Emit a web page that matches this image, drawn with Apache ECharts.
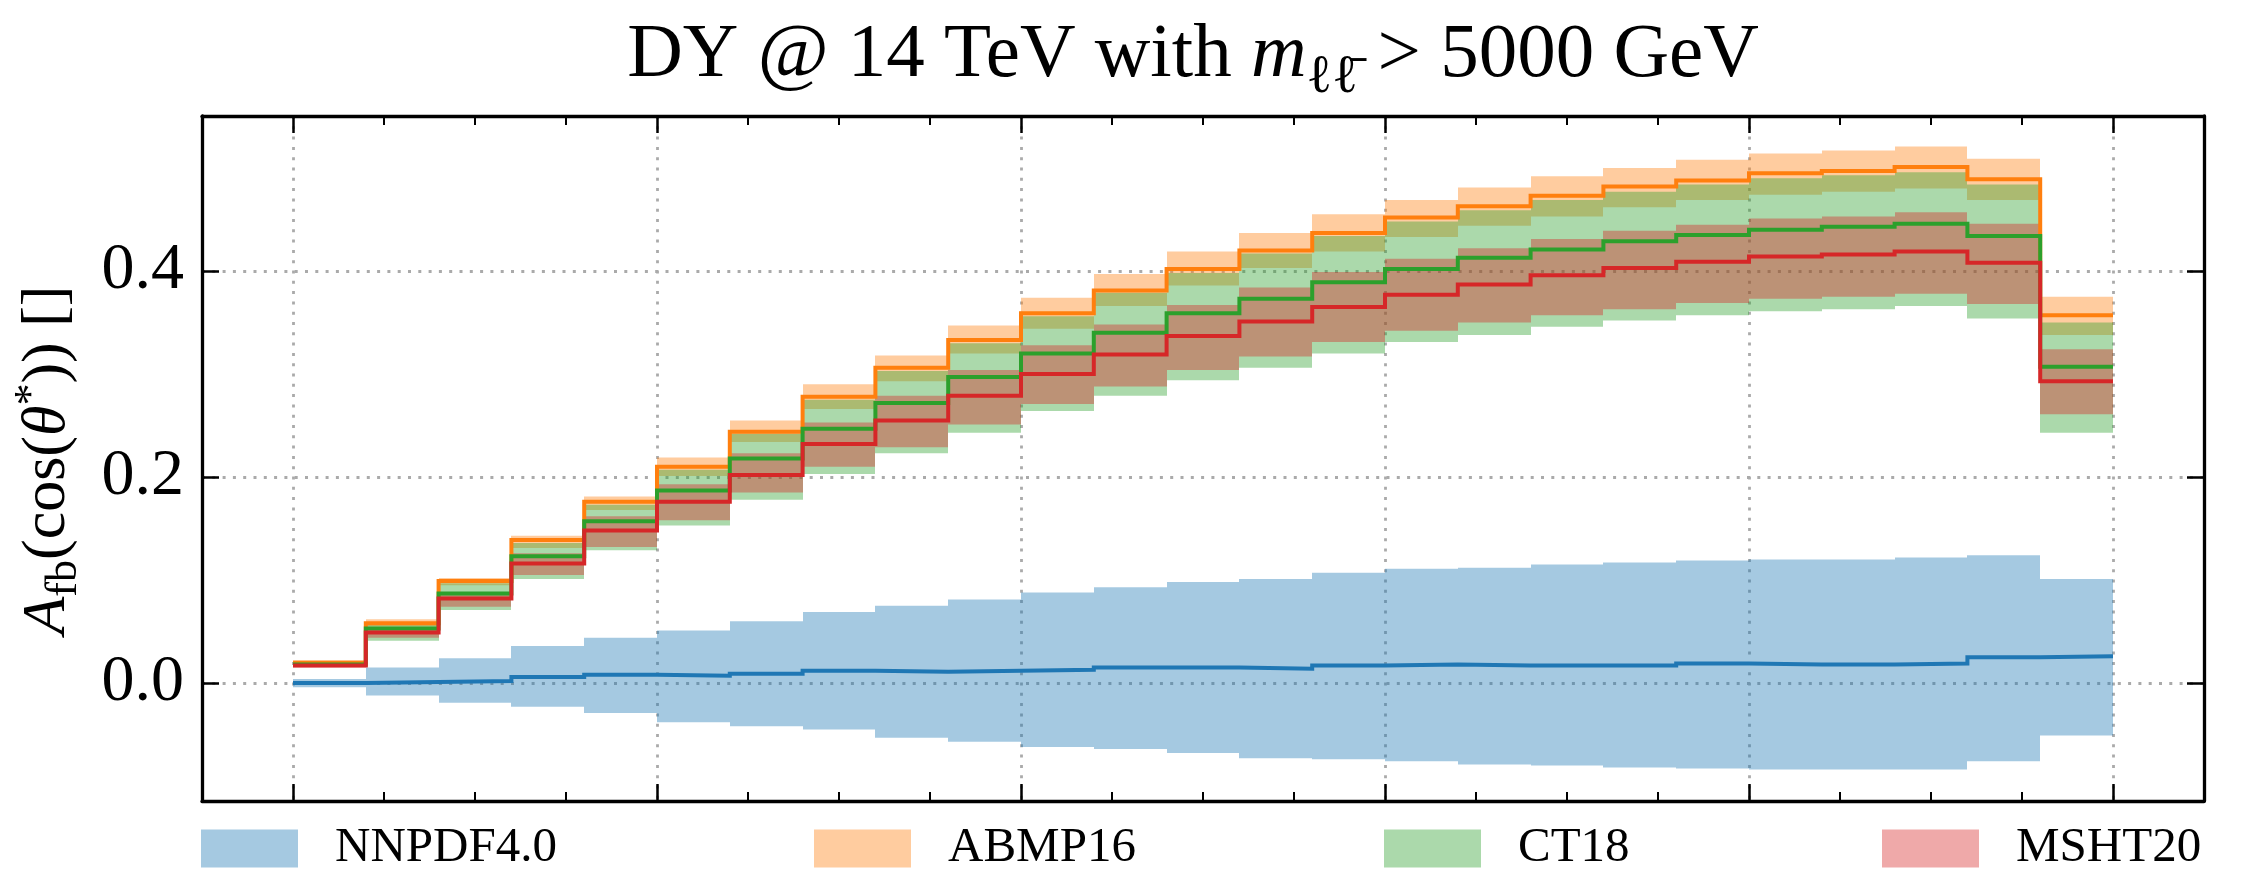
<!DOCTYPE html>
<html>
<head>
<meta charset="utf-8">
<script src="https://cdn.jsdelivr.net/npm/echarts@6/dist/echarts.min.js"></script>
<style>
  html, body { margin: 0; padding: 0; background: #ffffff; }
  #chart { width: 2254px; height: 881px; }
</style>
</head>
<body>
<div id="chart"></div>
<script>
// Bin edges of the histogram (25 bins on [0, 1])
const binEdges = [0.00, 0.04, 0.08, 0.12, 0.16, 0.20, 0.24, 0.28, 0.32, 0.36, 0.40, 0.44, 0.48,
                  0.52, 0.56, 0.60, 0.64, 0.68, 0.72, 0.76, 0.80, 0.84, 0.88, 0.92, 0.96, 1.00];

const pdfNames = ['NNPDF4.0', 'ABMP16', 'CT18', 'MSHT20'];

// NNPDF4.0: central value and uncertainty band per bin
const nnpdfCentral = [0.000, 0.001, 0.002, 0.006, 0.008, 0.007, 0.009, 0.012, 0.011, 0.012, 0.013, 0.015, 0.015,
                      0.014, 0.017, 0.018, 0.017, 0.017, 0.017, 0.019, 0.018, 0.018, 0.019, 0.025, 0.026];
const nnpdfLow     = [-0.004, -0.012, -0.019, -0.023, -0.029, -0.038, -0.042, -0.045, -0.053, -0.057, -0.062, -0.064, -0.068,
                      -0.073, -0.074, -0.076, -0.079, -0.080, -0.082, -0.083, -0.084, -0.084, -0.084, -0.076, -0.051];
const nnpdfHigh    = [0.004, 0.015, 0.024, 0.036, 0.044, 0.051, 0.060, 0.069, 0.075, 0.081, 0.088, 0.093, 0.098,
                      0.101, 0.107, 0.111, 0.112, 0.115, 0.117, 0.119, 0.120, 0.120, 0.122, 0.124, 0.101];

// ABMP16
const abmpCentral = [0.020, 0.058, 0.099, 0.139, 0.176, 0.210, 0.244, 0.278, 0.306, 0.333, 0.359, 0.381, 0.402,
                     0.420, 0.437, 0.452, 0.463, 0.473, 0.482, 0.488, 0.495, 0.497, 0.501, 0.489, 0.357];
const abmpLow     = [0.019, 0.055, 0.095, 0.131, 0.168, 0.201, 0.234, 0.266, 0.293, 0.320, 0.344, 0.366, 0.386,
                     0.403, 0.419, 0.433, 0.444, 0.453, 0.462, 0.469, 0.474, 0.477, 0.480, 0.469, 0.338];
const abmpHigh    = [0.021, 0.062, 0.102, 0.143, 0.181, 0.219, 0.255, 0.290, 0.318, 0.347, 0.374, 0.397, 0.419,
                     0.437, 0.455, 0.469, 0.481, 0.492, 0.500, 0.508, 0.514, 0.517, 0.521, 0.509, 0.375];

// CT18
const ct18Central = [0.018, 0.053, 0.087, 0.123, 0.157, 0.187, 0.218, 0.247, 0.272, 0.297, 0.320, 0.340, 0.359,
                     0.373, 0.389, 0.402, 0.413, 0.421, 0.429, 0.435, 0.440, 0.443, 0.446, 0.434, 0.307];
const ct18Low     = [0.016, 0.041, 0.071, 0.101, 0.129, 0.153, 0.178, 0.203, 0.223, 0.243, 0.264, 0.279, 0.294,
                     0.306, 0.320, 0.331, 0.338, 0.346, 0.352, 0.357, 0.361, 0.363, 0.366, 0.354, 0.243];
const ct18High    = [0.020, 0.057, 0.097, 0.136, 0.173, 0.207, 0.242, 0.275, 0.303, 0.330, 0.356, 0.379, 0.398,
                     0.417, 0.434, 0.448, 0.459, 0.469, 0.477, 0.484, 0.490, 0.493, 0.496, 0.484, 0.350];

// MSHT20
const mshtCentral = [0.017, 0.049, 0.082, 0.116, 0.148, 0.176, 0.202, 0.232, 0.255, 0.279, 0.300, 0.319, 0.337,
                     0.351, 0.365, 0.377, 0.387, 0.396, 0.403, 0.409, 0.414, 0.416, 0.419, 0.408, 0.293];
const mshtLow     = [0.015, 0.044, 0.074, 0.105, 0.132, 0.158, 0.185, 0.210, 0.229, 0.251, 0.271, 0.288, 0.304,
                     0.317, 0.331, 0.342, 0.350, 0.357, 0.363, 0.369, 0.373, 0.375, 0.378, 0.368, 0.261];
const mshtHigh    = [0.018, 0.052, 0.088, 0.126, 0.162, 0.193, 0.223, 0.253, 0.279, 0.304, 0.328, 0.348, 0.367,
                     0.384, 0.399, 0.412, 0.422, 0.431, 0.439, 0.445, 0.451, 0.453, 0.457, 0.446, 0.324];

// matplotlib tab10 colours
const lineColors = ['#1f77b4', '#ff7f0e', '#2ca02c', '#d62728'];
const bandColors = ['rgba(31,119,180,0.4)', 'rgba(255,127,14,0.4)', 'rgba(44,160,44,0.4)', 'rgba(214,39,40,0.4)'];

const SERIF = '"Liberation Serif", "DejaVu Serif", serif';

function bandSeries(name, color, low, high) {
  const data = low.map((lo, i) => [binEdges[i], binEdges[i + 1], lo, high[i]]);
  return {
    type: 'custom',
    name: name,
    coordinateSystem: 'cartesian2d',
    xAxisIndex: 0,
    yAxisIndex: 0,
    silent: true,
    clip: true,
    z: 2,
    itemStyle: { color: color },
    encode: { x: [0, 1], y: [2, 3] },
    renderItem: function (params, api) {
      const topLeft = api.coord([api.value(0), api.value(3)]);
      const bottomRight = api.coord([api.value(1), api.value(2)]);
      const x0 = Math.round(topLeft[0]);
      const x1 = Math.round(bottomRight[0]);
      return {
        type: 'rect',
        shape: { x: x0, y: topLeft[1], width: x1 - x0, height: bottomRight[1] - topLeft[1] },
        style: { fill: color }
      };
    },
    data: data
  };
}

function stepSeries(name, color, central) {
  const pts = central.map((v, i) => [binEdges[i], v]);
  pts.push([binEdges[central.length], central[central.length - 1]]);
  return {
    type: 'line',
    name: name + ' central',
    step: 'end',
    data: pts,
    symbol: 'none',
    showSymbol: false,
    silent: true,
    clip: true,
    z: 3,
    lineStyle: { color: color, width: 4, join: 'miter' },
    itemStyle: { color: color }
  };
}

// Text runs (mixed fonts / sub- and superscripts) laid out with measured widths
const measureCtx = document.createElement('canvas').getContext('2d');
function fontOf(r) {
  return (r.italic ? 'italic ' : '') + r.size + 'px ' + SERIF;
}
function layoutRuns(runs, baseline) {
  const widths = runs.map(r => { measureCtx.font = fontOf(r); return measureCtx.measureText(r.text).width; });
  const total = widths.reduce((a, b) => a + b, 0);
  let x = -total / 2;
  return runs.map((r, i) => {
    const el = {
      type: 'text',
      x: x,
      y: baseline + (r.dy || 0) - 0.3375 * r.size,
      style: { text: r.text, font: fontOf(r), fill: '#000', align: 'left', verticalAlign: 'middle' }
    };
    x += widths[i];
    return el;
  });
}

const titleRuns = [
  { text: 'DY @ 14 TeV with ', size: 77 },
  { text: 'm', size: 77, italic: true },
  { text: '\u2113\u2113\u0304', size: 54, dy: 14 },
  { text: ' > 5000 GeV', size: 77 }
];

const yLabelRuns = [
  { text: 'A', size: 62, italic: true },
  { text: 'fb', size: 44, dy: 10 },
  { text: '(cos(', size: 62 },
  { text: '\u03b8', size: 62, italic: true },
  { text: '*', size: 44, dy: -22 },
  { text: ')) []', size: 62 }
];

const axisCommon = {
  type: 'value',
  axisLine: { show: true, onZero: false, lineStyle: { color: '#000', width: 3.3 } },
  axisTick: { show: true, inside: true, length: 17, lineStyle: { color: '#000', width: 2.5 } }
};
const gridLineStyle = { color: '#aaaaaa', width: 2.8, type: [3, 7.3], cap: 'butt' };

const option = {
  animation: false,
  backgroundColor: '#ffffff',
  grid: { left: 202, right: 50, top: 116, bottom: 80, containLabel: false },
  xAxis: [
    Object.assign({}, axisCommon, {
      min: -0.05, max: 1.05, splitNumber: 5, position: 'bottom',
      minorTick: { show: true, splitNumber: 4, length: 9, lineStyle: { color: '#000', width: 2 } },
      axisLabel: { show: false },
      splitLine: { show: true, showMinLine: false, showMaxLine: false, lineStyle: gridLineStyle }
    }),
    Object.assign({}, axisCommon, {
      min: -0.05, max: 1.05, splitNumber: 5, position: 'top',
      minorTick: { show: true, splitNumber: 4, length: 9, lineStyle: { color: '#000', width: 2 } },
      axisLabel: { show: false },
      splitLine: { show: false }
    })
  ],
  yAxis: [
    Object.assign({}, axisCommon, {
      min: -0.1145, max: 0.5505, splitNumber: 3, position: 'left',
      axisLabel: {
        show: true, margin: 18, color: '#000', fontFamily: SERIF, fontSize: 66,
        showMinLabel: false, showMaxLabel: false,
        formatter: v => v.toFixed(1)
      },
      splitLine: { show: true, showMinLine: false, showMaxLine: false, lineStyle: gridLineStyle }
    }),
    Object.assign({}, axisCommon, {
      min: -0.1145, max: 0.5505, splitNumber: 3, position: 'right',
      axisLabel: { show: false },
      splitLine: { show: false }
    })
  ],
  legend: pdfNames.map((name, i) => ({
    data: [{ name: name, icon: 'rect' }],
    left: [201, 814, 1384, 1882][i],
    top: 824,
    padding: 0,
    itemWidth: 97,
    itemHeight: 38,
    selectedMode: false,
    itemStyle: { borderWidth: 0 },
    textStyle: { fontFamily: SERIF, fontSize: 49, color: '#000', padding: [0, 0, 0, 32] }
  })),
  graphic: [
    { type: 'group', x: 1193, y: 0, children: layoutRuns(titleRuns, 82) },
    { type: 'group', x: 53, y: 460, rotation: Math.PI / 2, children: layoutRuns(yLabelRuns, 16) }
  ],
  series: [
    bandSeries(pdfNames[0], bandColors[0], nnpdfLow, nnpdfHigh),
    bandSeries(pdfNames[1], bandColors[1], abmpLow, abmpHigh),
    bandSeries(pdfNames[2], bandColors[2], ct18Low, ct18High),
    bandSeries(pdfNames[3], bandColors[3], mshtLow, mshtHigh),
    stepSeries(pdfNames[0], lineColors[0], nnpdfCentral),
    stepSeries(pdfNames[1], lineColors[1], abmpCentral),
    stepSeries(pdfNames[2], lineColors[2], ct18Central),
    stepSeries(pdfNames[3], lineColors[3], mshtCentral)
  ]
};

const chart = echarts.init(document.getElementById('chart'), null, { renderer: 'canvas' });
chart.setOption(option);
</script>
</body>
</html>
